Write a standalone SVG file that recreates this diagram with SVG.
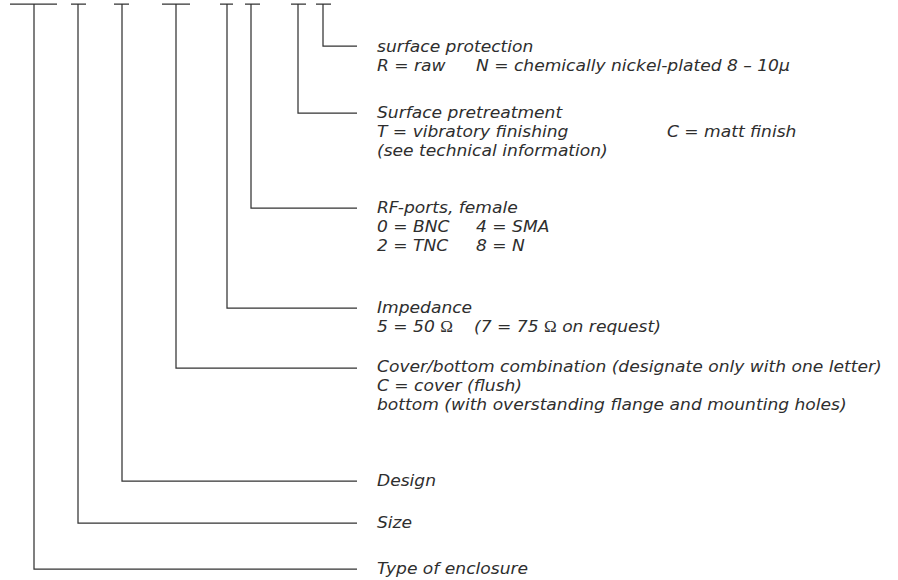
<svg xmlns="http://www.w3.org/2000/svg" width="898" height="580" viewBox="0 0 898 580">
<style>
.ln{stroke:#333;stroke-width:1.25;fill:none}
text{font-family:"DejaVu Sans",sans-serif;font-style:oblique;font-size:16px;fill:#2e2e2e}
.om{font-family:"Liberation Serif",serif;font-style:normal}
</style>
<rect width="898" height="580" fill="#fff"/>
<g id="connectors">
<path class="ln" d="M10 4H57M34 4V569H357"/>
<path class="ln" d="M71 4H86M78 4V523H357"/>
<path class="ln" d="M114 4H129M122 4V481H357"/>
<path class="ln" d="M162 4H190M176 4V368H357"/>
<path class="ln" d="M220 4H233M227 4V308H357"/>
<path class="ln" d="M245 4H260M251 4V208H357"/>
<path class="ln" d="M291 4H306M298 4V113H357"/>
<path class="ln" d="M316 4H331M323 4V46H357"/>
</g>
<g id="surface-protection" transform="matrix(1.07 0 0 1 -26.39 0)">
<text><tspan x="377" y="52">surface protection</tspan><tspan x="377" y="71">R = raw</tspan><tspan x="469.5" y="71">N = chemically nickel-plated 8 – 10µ</tspan></text>
</g>
<g id="surface-pretreatment" transform="matrix(1.07 0 0 1 -26.39 0)">
<text><tspan x="377" y="118">Surface pretreatment</tspan><tspan x="377" y="137">T = vibratory finishing</tspan><tspan x="648" y="137">C = matt finish</tspan><tspan x="377" y="156">(see technical information)</tspan></text>
</g>
<g id="rf-ports" transform="matrix(1.07 0 0 1 -26.39 0)">
<text><tspan x="377" y="213">RF-ports, female</tspan><tspan x="377" y="232">0 = BNC</tspan><tspan x="469.5" y="232">4 = SMA</tspan><tspan x="377" y="251">2 = TNC</tspan><tspan x="469.5" y="251">8 = N</tspan></text>
</g>
<g id="impedance" transform="matrix(1.07 0 0 1 -26.39 0)">
<text><tspan x="377" y="313">Impedance</tspan><tspan x="377" y="332">5 = 50 <tspan class="om">Ω</tspan></tspan><tspan x="467.7" y="332">(7 = 75 <tspan class="om">Ω</tspan> on request)</tspan></text>
</g>
<g id="cover-bottom" transform="matrix(1.07 0 0 1 -26.39 0)">
<text><tspan x="377" y="372">Cover/bottom combination (designate only with one letter)</tspan><tspan x="377" y="391">C = cover (flush)</tspan><tspan x="377" y="410">bottom (with overstanding flange and mounting holes)</tspan></text>
</g>
<g id="design" transform="matrix(1.07 0 0 1 -26.39 0)"><text x="377" y="486">Design</text></g>
<g id="size" transform="matrix(1.07 0 0 1 -26.39 0)"><text x="377" y="528">Size</text></g>
<g id="type" transform="matrix(1.07 0 0 1 -26.39 0)"><text x="377" y="574">Type of enclosure</text></g>
</svg>
